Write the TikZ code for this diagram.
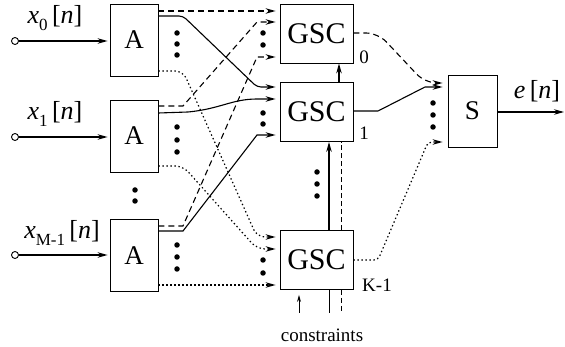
\documentclass[tikz,border=0pt]{standalone}
\usepackage{fontspec}
\setmainfont{Liberation Serif}
\usetikzlibrary{arrows.meta,calc}
\newcommand\mysub[1]{\raisebox{-0.3em}{\fontsize{17}{17}\selectfont #1}}
\begin{document}
\begin{tikzpicture}[x=1pt,y=-1pt,
  box/.style={draw, line width=0.9pt, inner sep=0pt},
  abox/.style={box, minimum width=48pt, minimum height=72pt, font=\fontsize{27}{27}\selectfont},
  gbox/.style={box, minimum width=73pt, minimum height=59pt, font=\fontsize{30}{30}\selectfont},
  lab/.style={inner sep=0pt, font=\fontsize{26}{26}\selectfont},
  small/.style={inner sep=0pt, font=\fontsize{19}{19}\selectfont},
  arr/.style={-{Stealth[length=10pt,width=5.5pt]}},
  ln/.style={line width=1.1pt},
  dsh/.style={line width=1.1pt, dash pattern=on 6pt off 4pt},
  dtt/.style={line width=1.2pt, dash pattern=on 1.4pt off 2.6pt},
  dt/.style={circle, fill, inner sep=0pt, minimum size=5.5pt},
  inp/.style={circle, draw, line width=0.9pt, inner sep=0pt, minimum size=7pt, fill=white}
]
\useasboundingbox (0,0) rectangle (565,347);

% A boxes
\node[abox] (A0) at (134,40) {A};
\node[abox] (A1) at (134,136) {A};
\node[abox] (A2) at (134,255.5) {A};

% GSC boxes
\node[gbox] (G0) at (316.5,33.5) {GSC};
\node[gbox] (G1) at (316.5,112) {GSC};
\node[gbox] (GK) at (316.5,260) {GSC};

% S box
\node[abox, minimum width=49pt] (S) at (472.5,111) {S};

% inputs
\node[inp] (i0) at (15,41) {};
\node[inp] (i1) at (15,137) {};
\node[inp] (i2) at (15,255) {};
\draw[ln,arr,shorten >=2pt] (i0) -- (i0 -| A0.west);
\draw[ln,arr,shorten >=2pt] (i1) -- (i1 -| A1.west);
\draw[ln,arr,shorten >=2pt] (i2) -- (i2 -| A2.west);
\node[lab] (lx0) at (55,18) {\textit{x}\mysub{0}\,[\textit{n}]};
\node[lab] (lx1) at (55,114) {\textit{x}\mysub{1}\,[\textit{n}]};
\node[lab] (lx2) at (62,233) {\textit{x}\mysub{M-1}\,[\textit{n}]};

% dots
\foreach \y in {33,44,55,127,140,152,245,257,269} \node[dt] at (177,\y) {};
\foreach \y in {190,201} \node[dt] at (135,\y) {};
\foreach \y in {33,45,113,124,260,273} \node[dt] at (263,\y) {};
\foreach \y in {172,184,196} \node[dt] at (317,\y) {};
\foreach \y in {103,115,127} \node[dt] at (433,\y) {};

% A0 outputs
\draw[dsh,arr,shorten >=4pt] (A0.east |- 0,11) -- (G0.west |- 0,11);
\draw[ln,arr,shorten >=4pt,rounded corners=4pt] (A0.east |- 0,16) -- (183,16) -- (257,87) -- (G1.west |- 0,87);
\draw[dtt,arr,shorten >=4pt,rounded corners=8pt] (A0.east |- 0,71) -- (183,71) -- (257,237) -- (GK.west |- 0,237);
% A1 outputs
\draw[dsh,arr,shorten >=4pt] (A1.east |- 0,106) -- (183,106) -- (257,22) -- (G0.west |- 0,22);
\draw[ln,arr,shorten >=4pt] (A1.east |- 0,113) -- (188,112) .. controls (220,109) and (232,99) .. (257,99) -- (G1.west |- 0,99);
\draw[dtt,arr,shorten >=4pt,rounded corners=8pt] (A1.east |- 0,166) -- (183,166) -- (257,249) -- (GK.west |- 0,249);
% A2 outputs
\draw[dsh,arr,shorten >=4pt] (A2.east |- 0,226) -- (183,226) -- (257,57) -- (G0.west |- 0,57);
\draw[ln,arr,shorten >=4pt] (A2.east |- 0,231) -- (183,231) -- (257,135) -- (G1.west |- 0,135);
\draw[dtt,arr,shorten >=4pt] (A2.east |- 0,285) -- (GK.west |- 0,285);

% GSC outputs
\draw[dsh,arr,shorten >=5pt,rounded corners=12pt] (G0.east |- 0,33) -- (378,33) -- (425,83) -- (S.west |- 0,83);
\draw[ln,arr,shorten >=5pt] (G1.east |- 0,111) -- (378,111) -- (425,87) -- (S.west |- 0,87);
\draw[dtt,arr,shorten >=5pt,rounded corners=4pt] (GK.east |- 0,260) -- (378,260) -- (428,142) -- (S.west |- 0,142);

% S output
\coordinate (out) at (564,112);
\draw[ln,arr] (S.east |- out) -- (out);
\node[lab] (le) at (537,91) {\textit{e}\,[\textit{n}]};

% GSC labels
\node[small] (n0) at (364,57) {0};
\node[small] (n1) at (364,133) {1};
\node[small] (nK) at (377,285) {K-1};

% vertical connections
\draw[ln,arr] (G1.north -| 339,0) -- (G0.south -| 339,0);
\draw[ln,arr] (GK.north -| 329,0) -- (G1.south -| 329,0);
\draw[line width=0.9pt, dash pattern=on 5pt off 3pt] (GK.north -| 341,0) -- (G1.south -| 341,0);
\coordinate (b1) at (329,313);
\coordinate (b2) at (341,313);
\draw[line width=0.9pt] (GK.south -| b1) -- (b1);
\draw[line width=0.9pt, dash pattern=on 5pt off 3pt] (GK.south -| b2) -- (b2);

% constraints
\node[inner sep=0pt, font=\fontsize{19}{19}\selectfont] (cons) at (322,335) {constraints};
\coordinate (c0) at (299,313);
\draw[line width=0.9pt,-{Stealth[length=7pt,width=4pt]},shorten >=5pt] (c0) -- (GK.south -| c0);
\end{tikzpicture}
\end{document}
